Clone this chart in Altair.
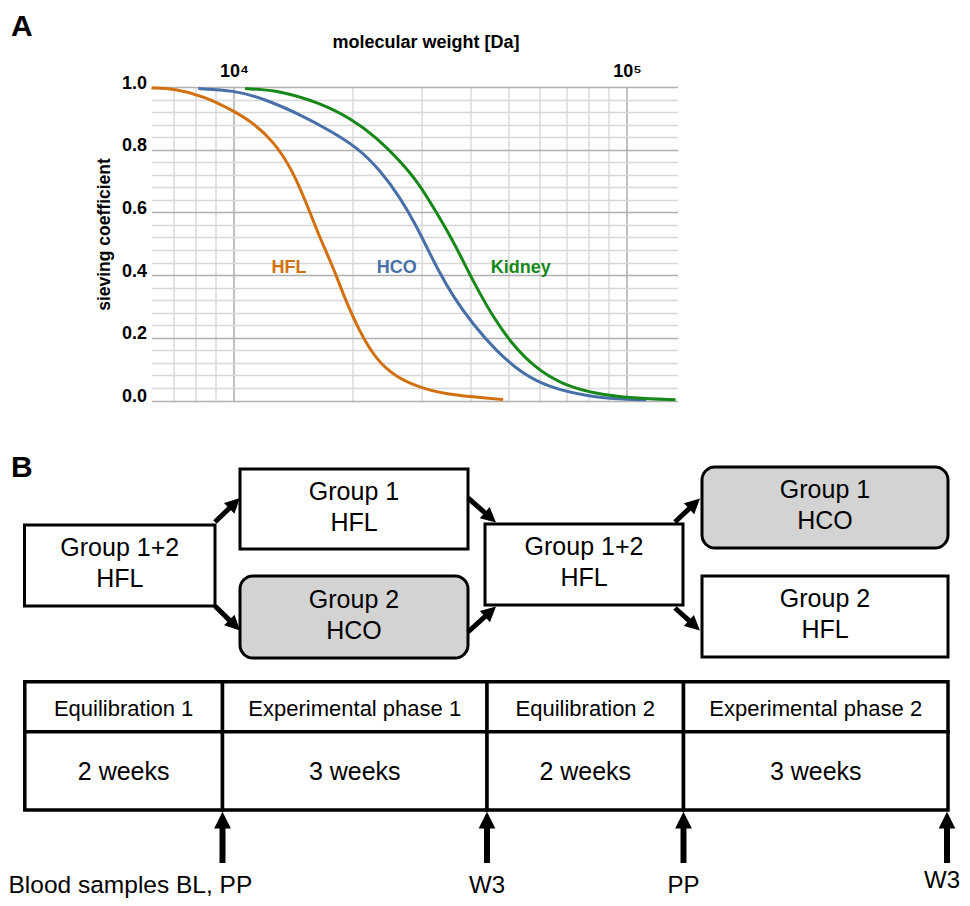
import altair as alt
import pandas as pd
import numpy as np

FONT = "Liberation Sans"

# ---------------- Panel A: sieving coefficient curves ----------------
series_names = ["HFL", "HCO", "Kidney"]
series_colors = ["#D2700F", "#4870A8", "#16881A"]

hfl_mw = [6170, 7050, 8440, 10000, 11040, 12630, 14130, 15450, 16530, 17900, 19100, 20800, 23110, 25860, 30270, 36230, 48420]
hfl_sc = [0.997, 0.995, 0.970, 0.923, 0.891, 0.827, 0.732, 0.615, 0.520, 0.424, 0.329, 0.223, 0.127, 0.074, 0.037, 0.016, 0.003]

hco_mw = [8115, 10000, 11800, 14760, 17670, 20670, 23650, 26480, 28970, 30990, 33140, 36230, 40540, 46380, 54230, 63400, 79400, 99300, 112000]
hco_sc = [0.995, 0.989, 0.965, 0.912, 0.859, 0.806, 0.732, 0.647, 0.562, 0.488, 0.414, 0.329, 0.244, 0.159, 0.085, 0.042, 0.013, 0.003, 0.002]

kid_mw = [10670, 13210, 16520, 19770, 23120, 26480, 29700, 32600, 35700, 38300, 41000, 45700, 51000, 58200, 67880, 82990, 104000, 133000]
kid_sc = [0.995, 0.988, 0.949, 0.901, 0.838, 0.764, 0.689, 0.604, 0.520, 0.445, 0.371, 0.265, 0.180, 0.106, 0.053, 0.021, 0.007, 0.002]

label_mw = [13800, 25950, 53700]
label_sc = [0.423, 0.423, 0.423]

mw_grid = [7000, 8000, 9000, 10000, 20000, 30000, 40000, 50000, 60000, 70000, 80000, 90000, 100000]
sc_grid = [0.0, 0.04, 0.08, 0.12, 0.16, 0.2, 0.24, 0.28, 0.32, 0.36, 0.4, 0.44, 0.48, 0.52,
           0.56, 0.6, 0.64, 0.68, 0.72, 0.76, 0.8, 0.84, 0.88, 0.92, 0.96, 1.0]

# ---------------- Panel B: study design ----------------
box_line1 = ["Group 1+2", "Group 1", "Group 2", "Group 1+2", "Group 1", "Group 2"]
box_line2 = ["HFL", "HFL", "HCO", "HFL", "HCO", "HFL"]
box_shaded = [False, False, True, False, True, False]
# diagram layout (drawing units)
box_left = [24.5, 240, 240, 485, 702, 702]
box_right = [215, 468, 468, 683, 948, 948]
box_top = [525, 469, 576, 524, 467, 576]
box_bottom = [606, 549, 658, 605, 548, 657]

arr_x0 = [215, 215, 468, 468, 675, 675]
arr_y0 = [522, 606, 498, 632, 522, 608]
arr_x1 = [240, 240, 496, 496, 700, 700]
arr_y1 = [498, 630.5, 522.5, 606.5, 498.5, 630.5]

phase_names = ["Equilibration 1", "Experimental phase 1", "Equilibration 2", "Experimental phase 2"]
phase_durations = ["2 weeks", "3 weeks", "2 weeks", "3 weeks"]
phase_edges = [24.8, 222.5, 487, 683.5, 948]
row_edges = [681.7, 731.7, 810]

sample_labels = ["Blood samples BL, PP", "W3", "PP", "W3"]
sample_x = [222.5, 487, 683.5, 947]

# ---------------- build tables ----------------
dfA = pd.concat([
    pd.DataFrame({"series": "HFL", "mw": hfl_mw, "sc": hfl_sc}),
    pd.DataFrame({"series": "HCO", "mw": hco_mw, "sc": hco_sc}),
    pd.DataFrame({"series": "Kidney", "mw": kid_mw, "sc": kid_sc}),
], ignore_index=True)
dfLab = pd.DataFrame({"series": series_names, "mw": label_mw, "sc": label_sc})

boxes = pd.DataFrame({"x": box_left, "x2": box_right, "y": box_top, "y2": box_bottom,
                      "shaded": box_shaded, "l1": box_line1, "l2": box_line2})
boxes["cy"] = (boxes["y"] + boxes["y2"]) / 2
boxes["cx"] = (boxes["x"] + boxes["x2"]) / 2
box_text = pd.concat([
    pd.DataFrame({"x": boxes["cx"], "y": boxes["cy"] - 17.5, "t": boxes["l1"]}),
    pd.DataFrame({"x": boxes["cx"], "y": boxes["cy"] + 13.5, "t": boxes["l2"]}),
], ignore_index=True)

cells = []
cell_text = []
for i in range(4):
    x0, x1 = phase_edges[i], phase_edges[i + 1]
    cells.append({"x": x0, "x2": x1, "y": row_edges[0], "y2": row_edges[1]})
    cells.append({"x": x0, "x2": x1, "y": row_edges[1], "y2": row_edges[2]})
    cell_text.append({"x": (x0 + x1) / 2, "y": 709, "t": phase_names[i], "fs": 22})
    cell_text.append({"x": (x0 + x1) / 2, "y": 771.5, "t": phase_durations[i], "fs": 25})
cells = pd.DataFrame(cells)
cell_text = pd.DataFrame(cell_text)

# arrows: diagonal ones + sample arrows
arrows = pd.DataFrame({"x0": arr_x0, "y0": arr_y0, "x1": arr_x1, "y1": arr_y1,
                       "hs": 225.0, "sw": 5.0})
samp = pd.DataFrame({"x0": sample_x, "y0": [863] * 4, "x1": sample_x, "y1": [row_edges[2] + 1.7] * 4,
                     "hs": 282.0, "sw": 6.0})
arrows = pd.concat([arrows, samp], ignore_index=True)
dx = arrows["x1"] - arrows["x0"]
dy = arrows["y1"] - arrows["y0"]
ln = np.sqrt(dx ** 2 + dy ** 2)
hl = np.sqrt(arrows["hs"])
arrows["xs"] = arrows["x1"] - dx / ln * hl * 0.75
arrows["ys"] = arrows["y1"] - dy / ln * hl * 0.75
arrows["ang"] = (np.degrees(np.arctan2(dx, -dy)) + 360) % 360

# text positions below the timeline (bottom of the em box)
samp_text = pd.DataFrame({"x": [487, 683.5, 942], "y": [897.5, 897.5, 893], "t": sample_labels[1:]})
samp_text0 = pd.DataFrame({"x": [8.5], "y": [897.5], "t": [sample_labels[0]]})
letters = pd.DataFrame({"x": [11, 11], "y": [36, 477], "t": ["A", "B"]})

# ---------------- Panel A chart ----------------
x_axis = alt.Axis(
    orient="top", values=mw_grid,
    labelExpr="datum.value == 10000 ? '10⁴' : (datum.value == 100000 ? '10⁵' : '')",
    ticks=False, domain=False, grid=True,
    gridColor={"condition": {"test": "datum.value == 10000 || datum.value == 100000", "value": "#a0a0a0"},
               "value": "#d4d4d4"},
    gridWidth=1.3,
    labelFont=FONT, labelFontSize=18, labelFontWeight="bold", labelColor="black",
    labelPadding=7, labelOverlap=False, labelFlush=False,
    title="molecular weight [Da]", titleFont=FONT, titleFontSize=18, titleFontWeight="bold",
    titleColor="black", titleX=274, titleY=-45, titleBaseline="middle", titleAlign="center",
)
y_axis = alt.Axis(
    values=sc_grid,
    labelExpr="(round(datum.value*100) % 20 == 0) ? format(datum.value, '.1f') : ''",
    ticks=False, domain=False, grid=True,
    gridColor={"condition": {"test": "round(datum.value*100) % 20 == 0", "value": "#b0b0b0"},
               "value": "#d8d8d8"},
    gridWidth=1.3,
    labelFont=FONT, labelFontSize=18, labelFontWeight="bold", labelColor="black",
    labelPadding=5, labelOffset=-4, labelOverlap=False, labelFlush=False,
    title="sieving coefficient", titleFont=FONT, titleFontSize=17.5, titleFontWeight="bold",
    titleColor="black", titleX=-47.5, titleY=147, titleAngle=270, titleBaseline="middle",
    titleAlign="center",
)
xA = alt.X("mw:Q", scale=alt.Scale(type="log", domain=[6170, 134500], nice=False), axis=x_axis)
yA = alt.Y("sc:Q", scale=alt.Scale(domain=[0, 1], nice=False, zero=False), axis=y_axis)
colorA = alt.Color("series:N", scale=alt.Scale(domain=series_names, range=series_colors), legend=None)

lines = alt.Chart(dfA).mark_line(strokeWidth=3, interpolate="basis").encode(x=xA, y=yA, color=colorA)
labels = alt.Chart(dfLab).mark_text(font=FONT, fontSize=18, fontWeight="bold").encode(
    x=xA, y=yA, text="series:N", color=colorA)
panelA = alt.layer(lines, labels)

# ---------------- Panel B chart ----------------
xs = alt.Scale(domain=[0, 970], range=[-151.5, 818.5], nice=False, zero=False)
ys = alt.Scale(domain=[0, 906], range=[-87, 819], nice=False, zero=False)


def bx(f):
    return alt.X(f"{f}:Q", scale=xs, axis=None)


def by(f):
    return alt.Y(f"{f}:Q", scale=ys, axis=None)


plain = alt.Chart(boxes[~boxes["shaded"]]).mark_rect(fill="white", stroke="black", strokeWidth=3).encode(
    x=bx("x"), x2="x2:Q", y=by("y"), y2="y2:Q")
shaded = alt.Chart(boxes[boxes["shaded"]]).mark_rect(
    fill="#d3d3d3", stroke="black", strokeWidth=3, cornerRadius=13).encode(
    x=bx("x"), x2="x2:Q", y=by("y"), y2="y2:Q")
btext = alt.Chart(box_text).mark_text(font=FONT, fontSize=25, color="black", baseline="middle").encode(
    x=bx("x"), y=by("y"), text="t:N")
cellr = alt.Chart(cells).mark_rect(fill="white", stroke="black", strokeWidth=3.5).encode(
    x=bx("x"), x2="x2:Q", y=by("y"), y2="y2:Q")
ctext = alt.Chart(cell_text).mark_text(font=FONT, color="black", baseline="middle").encode(
    x=bx("x"), y=by("y"), text="t:N", size=alt.Size("fs:Q", scale=None))
shafts = alt.Chart(arrows).mark_rule(color="black", strokeCap="butt").encode(
    x=bx("x0"), y=by("y0"), x2="xs:Q", y2="ys:Q", strokeWidth=alt.StrokeWidth("sw:Q", scale=None))
heads = alt.Chart(arrows).mark_point(
    shape="M0,0 L1,2 L-1,2 Z", filled=True, color="black", opacity=1, strokeWidth=0).encode(
    x=bx("x1"), y=by("y1"), size=alt.Size("hs:Q", scale=None), angle=alt.Angle("ang:Q", scale=None))
stext = alt.Chart(samp_text).mark_text(font=FONT, fontSize=24, color="black", baseline="bottom").encode(
    x=bx("x"), y=by("y"), text="t:N")
stext0 = alt.Chart(samp_text0).mark_text(font=FONT, fontSize=24.5, color="black", baseline="bottom",
                                          align="left").encode(x=bx("x"), y=by("y"), text="t:N")
lett = alt.Chart(letters).mark_text(font=FONT, fontSize=30, fontWeight="bold", color="black",
                                     baseline="alphabetic", align="left").encode(
    x=bx("x"), y=by("y"), text="t:N")

panelB = alt.layer(plain, shaded, btext, cellr, ctext, shafts, heads, stext, stext0, lett)

W, H = 526, 313.5
PL, PT = 143.5, 79
chart = alt.layer(panelA, panelB).resolve_scale(
    x="independent", y="independent", size="independent"
).properties(
    width=W, height=H,
    padding={"left": PL, "top": PT, "right": 954 - PL - W, "bottom": 890 - PT - H},
    autosize=alt.AutoSizeParams(type="none"),
    background="white",
).configure_view(stroke=None)

chart.save("out.html", embed_options={"renderer": "svg", "actions": False})
